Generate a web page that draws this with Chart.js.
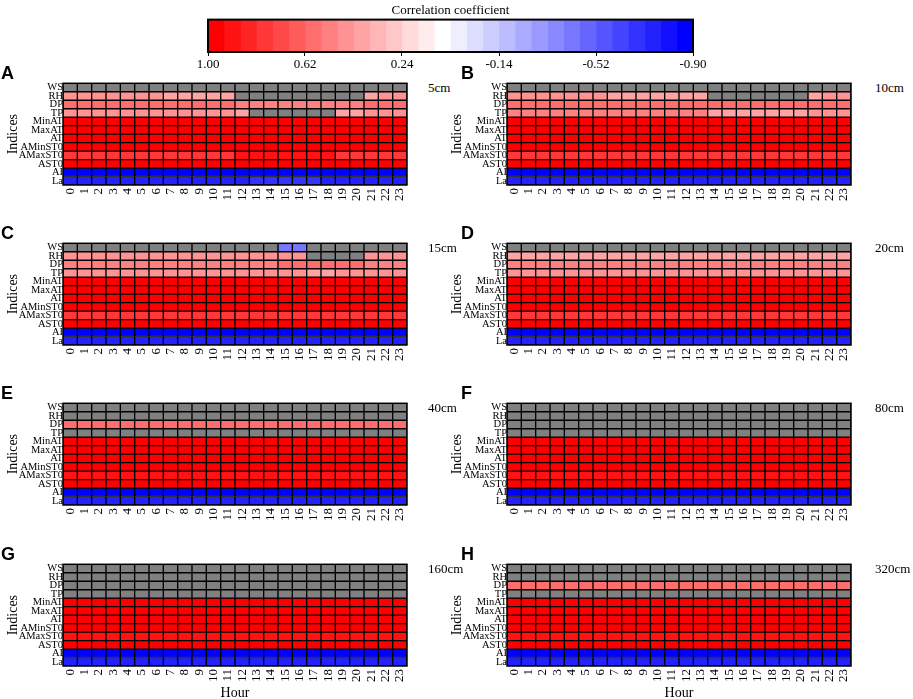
<!DOCTYPE html>
<html><head><meta charset="utf-8">
<script src="https://cdn.jsdelivr.net/npm/chart.js@4.4.0/dist/chart.umd.min.js"></script>
<style>
body{margin:0;width:913px;height:699px;background:#fff;position:relative;overflow:hidden;font-family:"Liberation Serif",serif}
canvas{position:absolute}
.lt{position:absolute;font:bold 18px "Liberation Sans",Arial,sans-serif;line-height:1;color:#000}
.dep{position:absolute;font:13px "Liberation Serif",serif;line-height:1;color:#000;white-space:nowrap}
</style></head><body>
<script>
const _ = null;
const ROWS = ['WS','RH','DP','TP','MinAT','MaxAT','AT','AMinST0','AMaxST0','AST0','AI','La'];
const HOURS = ['0','1','2','3','4','5','6','7','8','9','10','11','12','13','14','15','16','17','18','19','20','21','22','23'];
const PANEL_IDS = ['A','B','C','D','E','F','G','H'];
const DEPTHS = ['5cm','10cm','15cm','20cm','40cm','80cm','160cm','320cm'];
const CB_TICKS = [1.00, 0.62, 0.24, -0.14, -0.52, -0.90];
const CB_MIN = -0.90, CB_MAX = 1.00, NBINS = 30;

// rows: WS, RH, DP, TP, MinAT, MaxAT, AT, AMinST0, AMaxST0, AST0, AI, La  (null = not significant)
const panelA = [
 [_,_,_,_,_,_,_,_,_,_,_,_,_,_,_,_,_,_,_,_,_,_,_,_],
 [.46,.46,.46,.46,.46,.45,.44,.40,.40,.40,.40,.40,_,_,_,_,_,_,_,_,_,.40,.45,.46],
 [.59,.59,.59,.59,.59,.59,.59,.59,.59,.59,.59,.58,.52,.50,.50,.50,.50,.50,.50,.52,.54,.58,.59,.59],
 [.46,.46,.46,.46,.46,.46,.45,.44,.44,.44,.44,.44,.40,_,_,_,_,_,_,.40,.40,.44,.46,.46],
 [.96,.96,.96,.96,.96,.96,.96,.96,.96,.96,.96,.96,.96,.96,.96,.96,.96,.96,.96,.96,.96,.96,.96,.96],
 [.97,.97,.97,.97,.97,.97,.97,.97,.97,.97,.97,.97,.97,.97,.97,.97,.97,.97,.97,.97,.97,.97,.97,.97],
 [.98,.98,.98,.98,.98,.98,.98,.98,.98,.98,.98,.98,.98,.98,.98,.98,.98,.98,.98,.98,.98,.98,.98,.98],
 [.97,.97,.97,.97,.97,.97,.97,.97,.97,.97,.97,.97,.97,.97,.97,.97,.97,.97,.97,.97,.97,.97,.97,.97],
 [.80,.80,.80,.80,.80,.80,.80,.80,.80,.80,.80,.80,.93,.93,.93,.93,.93,.93,.93,.80,.80,.80,.80,.80],
 [.98,.98,.98,.98,.98,.98,.98,.98,.98,.98,.98,.98,.98,.98,.98,.98,.98,.98,.98,.98,.98,.98,.98,.98],
 [-.88,-.88,-.88,-.88,-.88,-.88,-.88,-.88,-.88,-.88,-.88,-.88,-.88,-.88,-.88,-.88,-.88,-.88,-.88,-.88,-.88,-.88,-.88,-.88],
 [-.74,-.74,-.74,-.74,-.74,-.74,-.74,-.74,-.74,-.74,-.74,-.74,-.74,-.68,-.68,-.68,-.68,-.68,-.74,-.74,-.74,-.74,-.74,-.74]
];
const panelB = [
 [_,_,_,_,_,_,_,_,_,_,_,_,_,_,_,_,_,_,_,_,_,_,_,_],
 [.46,.46,.46,.46,.46,.45,.44,.40,.40,.40,.40,.40,.40,.40,_,_,_,_,_,_,_,.40,.44,.46],
 [.57,.57,.57,.57,.57,.57,.57,.57,.57,.57,.57,.57,.57,.57,.57,.57,.57,.57,.57,.57,.57,.57,.57,.57],
 [.50,.50,.50,.50,.50,.50,.50,.50,.50,.50,.50,.50,.50,.50,.42,.42,.42,.42,.42,.42,.42,.48,.48,.48],
 [.96,.96,.96,.96,.96,.96,.96,.96,.96,.96,.96,.96,.96,.96,.96,.96,.96,.96,.96,.96,.96,.96,.96,.96],
 [.97,.97,.97,.97,.97,.97,.97,.97,.97,.97,.97,.97,.97,.97,.97,.97,.97,.97,.97,.97,.97,.97,.97,.97],
 [.98,.98,.98,.98,.98,.98,.98,.98,.98,.98,.98,.98,.98,.98,.98,.98,.98,.98,.98,.98,.98,.98,.98,.98],
 [.97,.97,.97,.97,.97,.97,.97,.97,.97,.97,.97,.97,.97,.97,.97,.97,.97,.97,.97,.97,.97,.97,.97,.97],
 [.80,.80,.80,.80,.80,.80,.80,.80,.80,.80,.80,.80,.80,.80,.80,.80,.80,.80,.80,.80,.80,.80,.80,.80],
 [.98,.98,.98,.98,.98,.98,.98,.98,.98,.98,.98,.98,.98,.98,.98,.98,.98,.98,.98,.98,.98,.98,.98,.98],
 [-.88,-.88,-.88,-.88,-.88,-.88,-.88,-.88,-.88,-.88,-.88,-.88,-.88,-.88,-.88,-.88,-.88,-.88,-.88,-.88,-.88,-.88,-.88,-.88],
 [-.74,-.74,-.74,-.74,-.74,-.74,-.74,-.74,-.74,-.74,-.74,-.74,-.74,-.74,-.74,-.74,-.74,-.74,-.74,-.74,-.74,-.74,-.74,-.74]
];
const panelC = [
 [_,_,_,_,_,_,_,_,_,_,_,_,_,_,_,-.40,-.40,_,_,_,_,_,_,_],
 [.44,.44,.44,.44,.44,.44,.44,.44,.44,.44,.44,.44,.44,.44,.44,.44,.44,_,_,_,_,.44,.44,.44],
 [.52,.52,.52,.52,.52,.52,.52,.52,.52,.52,.52,.52,.52,.52,.52,.58,.58,.58,.58,.58,.58,.52,.52,.52],
 [.46,.46,.46,.46,.46,.46,.46,.46,.46,.46,.46,.46,.46,.46,.46,.46,.46,.40,.40,.46,.46,.46,.46,.46],
 [.96,.96,.96,.96,.96,.96,.96,.96,.96,.96,.96,.96,.96,.96,.96,.96,.96,.96,.96,.96,.96,.96,.96,.96],
 [.97,.97,.97,.97,.97,.97,.97,.97,.97,.97,.97,.97,.97,.97,.97,.97,.97,.97,.97,.97,.97,.97,.97,.97],
 [.98,.98,.98,.98,.98,.98,.98,.98,.98,.98,.98,.98,.98,.98,.98,.98,.98,.98,.98,.98,.98,.98,.98,.98],
 [.97,.97,.97,.97,.97,.97,.97,.97,.97,.97,.97,.97,.97,.97,.97,.97,.97,.97,.97,.97,.97,.97,.97,.97],
 [.80,.80,.80,.80,.80,.80,.80,.80,.80,.80,.80,.80,.80,.80,.80,.80,.80,.80,.80,.80,.80,.80,.80,.80],
 [.98,.98,.98,.98,.98,.98,.98,.98,.98,.98,.98,.98,.98,.98,.98,.98,.98,.98,.98,.98,.98,.98,.98,.98],
 [-.88,-.88,-.88,-.88,-.88,-.88,-.88,-.88,-.88,-.88,-.88,-.88,-.88,-.88,-.88,-.88,-.88,-.88,-.88,-.88,-.88,-.88,-.88,-.88],
 [-.74,-.74,-.74,-.74,-.74,-.74,-.74,-.74,-.74,-.74,-.74,-.74,-.74,-.74,-.74,-.74,-.74,-.74,-.74,-.74,-.74,-.74,-.74,-.74]
];
const panelD = [
 [_,_,_,_,_,_,_,_,_,_,_,_,_,_,_,_,_,_,_,_,_,_,_,_],
 [.42,.42,.42,.42,.42,.42,.42,.42,.42,.42,.42,.42,.42,.42,.42,.42,.42,.42,.42,.42,.42,.42,.42,.42],
 [.52,.52,.52,.52,.52,.52,.52,.52,.52,.52,.52,.52,.52,.52,.52,.52,.52,.52,.52,.52,.52,.52,.52,.52],
 [.46,.46,.46,.46,.46,.46,.46,.46,.46,.46,.46,.46,.46,.46,.46,.46,.46,.46,.46,.46,.46,.46,.46,.46],
 [.96,.96,.96,.96,.96,.96,.96,.96,.96,.96,.96,.96,.96,.96,.96,.96,.96,.96,.96,.96,.96,.96,.96,.96],
 [.97,.97,.97,.97,.97,.97,.97,.97,.97,.97,.97,.97,.97,.97,.97,.97,.97,.97,.97,.97,.97,.97,.97,.97],
 [.98,.98,.98,.98,.98,.98,.98,.98,.98,.98,.98,.98,.98,.98,.98,.98,.98,.98,.98,.98,.98,.98,.98,.98],
 [.97,.97,.97,.97,.97,.97,.97,.97,.97,.97,.97,.97,.97,.97,.97,.97,.97,.97,.97,.97,.97,.97,.97,.97],
 [.80,.80,.80,.80,.80,.80,.80,.80,.80,.80,.80,.80,.80,.80,.80,.80,.80,.80,.80,.80,.80,.80,.80,.80],
 [.98,.98,.98,.98,.98,.98,.98,.98,.98,.98,.98,.98,.98,.98,.98,.98,.98,.98,.98,.98,.98,.98,.98,.98],
 [-.88,-.88,-.88,-.88,-.88,-.88,-.88,-.88,-.88,-.88,-.88,-.88,-.88,-.88,-.88,-.88,-.88,-.88,-.88,-.88,-.88,-.88,-.88,-.88],
 [-.74,-.74,-.74,-.74,-.74,-.74,-.74,-.74,-.74,-.74,-.74,-.74,-.74,-.74,-.74,-.74,-.74,-.74,-.74,-.74,-.74,-.74,-.74,-.74]
];
const panelE = [
 [_,_,_,_,_,_,_,_,_,_,_,_,_,_,_,_,_,_,_,_,_,_,_,_],
 [_,_,_,_,_,_,_,_,_,_,_,_,_,_,_,_,_,_,_,_,_,_,_,_],
 [.59,.59,.59,.59,.59,.59,.59,.59,.59,.59,.59,.59,.59,.59,.59,.59,.59,.59,.59,.59,.59,.59,.59,.59],
 [_,_,_,_,_,_,_,_,_,_,_,_,_,_,_,_,_,_,_,_,_,_,_,_],
 [.96,.96,.96,.96,.96,.96,.96,.96,.96,.96,.96,.96,.96,.96,.96,.96,.96,.96,.96,.96,.96,.96,.96,.96],
 [.97,.97,.97,.97,.97,.97,.97,.97,.97,.97,.97,.97,.97,.97,.97,.97,.97,.97,.97,.97,.97,.97,.97,.97],
 [.98,.98,.98,.98,.98,.98,.98,.98,.98,.98,.98,.98,.98,.98,.98,.98,.98,.98,.98,.98,.98,.98,.98,.98],
 [.97,.97,.97,.97,.97,.97,.97,.97,.97,.97,.97,.97,.97,.97,.97,.97,.97,.97,.97,.97,.97,.97,.97,.97],
 [.90,.90,.90,.90,.90,.90,.90,.90,.90,.90,.90,.90,.90,.90,.90,.90,.90,.90,.90,.90,.90,.90,.90,.90],
 [.98,.98,.98,.98,.98,.98,.98,.98,.98,.98,.98,.98,.98,.98,.98,.98,.98,.98,.98,.98,.98,.98,.98,.98],
 [-.88,-.88,-.88,-.88,-.88,-.88,-.88,-.88,-.88,-.88,-.88,-.88,-.88,-.88,-.88,-.88,-.88,-.88,-.88,-.88,-.88,-.88,-.88,-.88],
 [-.74,-.74,-.74,-.74,-.74,-.74,-.74,-.74,-.74,-.74,-.74,-.74,-.74,-.74,-.74,-.74,-.74,-.74,-.74,-.74,-.74,-.74,-.74,-.74]
];
const panelF = [
 [_,_,_,_,_,_,_,_,_,_,_,_,_,_,_,_,_,_,_,_,_,_,_,_],
 [_,_,_,_,_,_,_,_,_,_,_,_,_,_,_,_,_,_,_,_,_,_,_,_],
 [_,_,_,_,_,_,_,_,_,_,_,_,_,_,_,_,_,_,_,_,_,_,_,_],
 [_,_,_,_,_,_,_,_,_,_,_,_,_,_,_,_,_,_,_,_,_,_,_,_],
 [.96,.96,.96,.96,.96,.96,.96,.96,.96,.96,.96,.96,.96,.96,.96,.96,.96,.96,.96,.96,.96,.96,.96,.96],
 [.97,.97,.97,.97,.97,.97,.97,.97,.97,.97,.97,.97,.97,.97,.97,.97,.97,.97,.97,.97,.97,.97,.97,.97],
 [.98,.98,.98,.98,.98,.98,.98,.98,.98,.98,.98,.98,.98,.98,.98,.98,.98,.98,.98,.98,.98,.98,.98,.98],
 [.97,.97,.97,.97,.97,.97,.97,.97,.97,.97,.97,.97,.97,.97,.97,.97,.97,.97,.97,.97,.97,.97,.97,.97],
 [.93,.93,.93,.93,.93,.93,.93,.93,.93,.93,.93,.93,.93,.93,.93,.93,.93,.93,.93,.93,.93,.93,.93,.93],
 [.98,.98,.98,.98,.98,.98,.98,.98,.98,.98,.98,.98,.98,.98,.98,.98,.98,.98,.98,.98,.98,.98,.98,.98],
 [-.88,-.88,-.88,-.88,-.88,-.88,-.88,-.88,-.88,-.88,-.88,-.88,-.88,-.88,-.88,-.88,-.88,-.88,-.88,-.88,-.88,-.88,-.88,-.88],
 [-.74,-.74,-.74,-.74,-.74,-.74,-.74,-.74,-.74,-.74,-.74,-.74,-.74,-.74,-.74,-.74,-.74,-.74,-.74,-.74,-.74,-.74,-.74,-.74]
];
const panelG = [
 [_,_,_,_,_,_,_,_,_,_,_,_,_,_,_,_,_,_,_,_,_,_,_,_],
 [_,_,_,_,_,_,_,_,_,_,_,_,_,_,_,_,_,_,_,_,_,_,_,_],
 [_,_,_,_,_,_,_,_,_,_,_,_,_,_,_,_,_,_,_,_,_,_,_,_],
 [_,_,_,_,_,_,_,_,_,_,_,_,_,_,_,_,_,_,_,_,_,_,_,_],
 [.96,.96,.96,.96,.96,.96,.96,.96,.96,.96,.96,.96,.96,.96,.96,.96,.96,.96,.96,.96,.96,.96,.96,.96],
 [.97,.97,.97,.97,.97,.97,.97,.97,.97,.97,.97,.97,.97,.97,.97,.97,.97,.97,.97,.97,.97,.97,.97,.97],
 [.98,.98,.98,.98,.98,.98,.98,.98,.98,.98,.98,.98,.98,.98,.98,.98,.98,.98,.98,.98,.98,.98,.98,.98],
 [.97,.97,.97,.97,.97,.97,.97,.97,.97,.97,.97,.97,.97,.97,.97,.97,.97,.97,.97,.97,.97,.97,.97,.97],
 [.93,.93,.93,.93,.93,.93,.93,.93,.93,.93,.93,.93,.93,.93,.93,.93,.93,.93,.93,.93,.93,.93,.93,.93],
 [.98,.98,.98,.98,.98,.98,.98,.98,.98,.98,.98,.98,.98,.98,.98,.98,.98,.98,.98,.98,.98,.98,.98,.98],
 [-.88,-.88,-.88,-.88,-.88,-.88,-.88,-.88,-.88,-.88,-.88,-.88,-.88,-.88,-.88,-.88,-.88,-.88,-.88,-.88,-.88,-.88,-.88,-.88],
 [-.74,-.74,-.74,-.74,-.74,-.74,-.74,-.74,-.74,-.74,-.74,-.74,-.74,-.74,-.74,-.74,-.74,-.74,-.74,-.74,-.74,-.74,-.74,-.74]
];
const panelH = [
 [_,_,_,_,_,_,_,_,_,_,_,_,_,_,_,_,_,_,_,_,_,_,_,_],
 [_,_,_,_,_,_,_,_,_,_,_,_,_,_,_,_,_,_,_,_,_,_,_,_],
 [.59,.59,.59,.59,.59,.59,.59,.59,.59,.59,.59,.59,.59,.59,.59,.59,.59,.59,.59,.59,.59,.59,.59,.59],
 [_,_,_,_,_,_,_,_,_,_,_,_,_,_,_,_,_,_,_,_,_,_,_,_],
 [.96,.96,.96,.96,.96,.96,.96,.96,.96,.96,.96,.96,.96,.96,.96,.96,.96,.96,.96,.96,.96,.96,.96,.96],
 [.97,.97,.97,.97,.97,.97,.97,.97,.97,.97,.97,.97,.97,.97,.97,.97,.97,.97,.97,.97,.97,.97,.97,.97],
 [.98,.98,.98,.98,.98,.98,.98,.98,.98,.98,.98,.98,.98,.98,.98,.98,.98,.98,.98,.98,.98,.98,.98,.98],
 [.97,.97,.97,.97,.97,.97,.97,.97,.97,.97,.97,.97,.97,.97,.97,.97,.97,.97,.97,.97,.97,.97,.97,.97],
 [.93,.93,.93,.93,.93,.93,.93,.93,.93,.93,.93,.93,.93,.93,.93,.93,.93,.93,.93,.93,.93,.93,.93,.93],
 [.98,.98,.98,.98,.98,.98,.98,.98,.98,.98,.98,.98,.98,.98,.98,.98,.98,.98,.98,.98,.98,.98,.98,.98],
 [-.88,-.88,-.88,-.88,-.88,-.88,-.88,-.88,-.88,-.88,-.88,-.88,-.88,-.88,-.88,-.88,-.88,-.88,-.88,-.88,-.88,-.88,-.88,-.88],
 [-.74,-.74,-.74,-.74,-.74,-.74,-.74,-.74,-.74,-.74,-.74,-.74,-.74,-.74,-.74,-.74,-.74,-.74,-.74,-.74,-.74,-.74,-.74,-.74]
];
const PANEL_DATA = [panelA, panelB, panelC, panelD, panelE, panelF, panelG, panelH];

// ---------- layout / style ----------
const SERIF = '"Liberation Serif", "Times New Roman", serif';
const COL_X = [63, 507];
const ROW_Y = [80, 240, 400, 561];
const GW = 344, GH = 105, YW = 60, PR = 14;
const STEP = (CB_MAX - CB_MIN) / NBINS;
const GRAY = '#808080';

function binColor(k){
  if (k <= 14){ const c = Math.round(255 * k / 14); return `rgb(255,${c},${c})`; }
  const f = (k - 14) / 15; const c = Math.round(255 * (1 - f)); return `rgb(${c},${c},255)`;
}
function valColor(v){
  if (v === null) return GRAY;
  let k = Math.floor((CB_MAX - v) / STEP + 1e-9);
  k = Math.max(0, Math.min(NBINS - 1, k));
  return binColor(k);
}
const frame = {id:'frame', afterDatasetsDraw(c, a, o){
  const {ctx, chartArea:ca} = c; ctx.save(); ctx.strokeStyle = '#000'; ctx.lineWidth = o.lw || 1.5;
  ctx.strokeRect(ca.left, ca.top, ca.width, ca.height); ctx.restore(); }};

function addDiv(cls, text, left, top){
  const d = document.createElement('div'); d.className = cls; d.textContent = text;
  d.style.left = left + 'px'; d.style.top = top + 'px'; document.body.appendChild(d);
}

PANEL_DATA.forEach((data, idx) => {
  const col = idx % 2, row = Math.floor(idx / 2);
  const gx = COL_X[col], gy = ROW_Y[row];
  const bottom = row === 3;
  const xh = bottom ? 36 : 30;
  const cv = document.createElement('canvas');
  cv.width = YW + GW + PR; cv.height = 3 + GH + xh;
  cv.style.left = (gx - YW) + 'px'; cv.style.top = (gy - 3) + 'px';
  document.body.appendChild(cv);
  const n = ROWS.length;
  const datasets = ROWS.map((name, i) => ({
    label: name,
    data: HOURS.map(() => [n - 1 - i, n - i]),
    backgroundColor: data[i].map(valColor),
    borderColor: '#000', borderWidth: 1, borderSkipped: false,
    grouped: false, barPercentage: 1, categoryPercentage: 1
  }));
  new Chart(cv, {
    type: 'bar',
    data: {labels: HOURS, datasets},
    plugins: [frame],
    options: {
      responsive: false, animation: false, events: [],
      layout: {padding: {top: 3, right: PR, left: 0, bottom: 0}},
      plugins: {legend: {display: false}, tooltip: {enabled: false}, frame: {lw: 1.5}},
      scales: {
        x: {type: 'category', offset: true, grid: {display: false, drawTicks: false}, border: {display: false},
            ticks: {autoSkip: false, minRotation: 90, maxRotation: 90, padding: 3, color: '#000', font: {family: SERIF, size: 13}},
            title: {display: bottom, text: 'Hour', color: '#000', font: {family: SERIF, size: 14}, padding: {top: 0, bottom: 0}},
            afterFit: s => { s.height = xh; }},
        y: {type: 'linear', min: 0, max: n, grid: {display: false, drawTicks: false}, border: {display: false},
            afterBuildTicks: s => { s.ticks = ROWS.map((_, i) => ({value: i + 0.5})); },
            ticks: {autoSkip: false, padding: 0, color: '#000', font: {family: SERIF, size: 10.5},
                    callback: v => ROWS[n - 1 - Math.floor(v)]},
            title: {display: true, text: 'Indices', color: '#000', font: {family: SERIF, size: 14}, padding: {top: 2, bottom: 0}},
            afterFit: s => { s.width = YW; }}
      }
    }
  });
  addDiv('lt', PANEL_IDS[idx], col ? 461 : 1, gy - 16);
  addDiv('dep', DEPTHS[idx], col ? 875 : 428, gy + 1);
});

// ---------- colour bar ----------
(function(){
  const cv = document.createElement('canvas');
  cv.width = 525; cv.height = 74; cv.style.left = '188px'; cv.style.top = '0px';
  document.body.appendChild(cv);
  const levels = Array.from({length: NBINS}, (_, k) => k);
  const datasets = levels.map(k => ({
    data: [[CB_MAX - k * STEP, CB_MAX - (k + 1) * STEP]],
    backgroundColor: binColor(k), borderWidth: 0, grouped: false, barPercentage: 1, categoryPercentage: 1
  }));
  new Chart(cv, {
    type: 'bar',
    data: {labels: ['cb'], datasets},
    plugins: [frame],
    options: {
      indexAxis: 'y', responsive: false, animation: false, events: [],
      layout: {padding: {left: 20, right: 20, top: 0, bottom: 0}},
      plugins: {legend: {display: false}, tooltip: {enabled: false}, frame: {lw: 2},
        title: {display: true, text: 'Correlation coefficient', color: '#000',
                font: {family: SERIF, size: 13, weight: 'normal'}, padding: {top: 3, bottom: 1}}},
      scales: {
        x: {type: 'linear', min: CB_MIN, max: CB_MAX, reverse: true,
            afterBuildTicks: s => { s.ticks = CB_TICKS.map(v => ({value: v})); },
            ticks: {autoSkip: false, maxRotation: 0, padding: 1, color: '#000', font: {family: SERIF, size: 13},
                    callback: v => Number(v).toFixed(2)},
            grid: {display: true, drawOnChartArea: false, drawTicks: true, tickLength: 4, color: '#000'},
            border: {display: false},
            afterFit: s => { s.height = 22; }},
        y: {type: 'category', display: false}
      }
    }
  });
})();
</script>
</body></html>
